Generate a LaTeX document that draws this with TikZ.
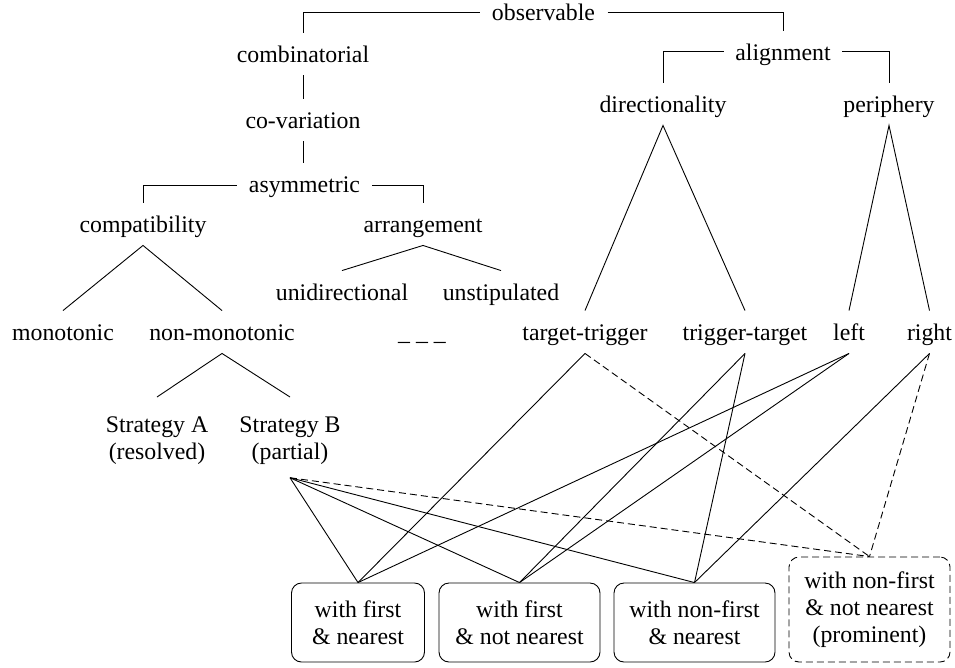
\documentclass[tikz,border=0pt]{standalone}
\usepackage{fontspec}
\setmainfont{Liberation Serif}
\begin{document}
\begin{tikzpicture}[x=1pt,y=-1pt,line width=0.9pt,
  txt/.style={font=\fontsize{23.8}{27}\selectfont},
  lbl/.style={txt,inner xsep=0pt,inner ysep=12pt,text height=17pt,text depth=1pt,anchor=base},
  strat/.style={txt,inner sep=0pt,align=center,anchor=north},
  box/.style={txt,draw,rounded corners=10pt,align=center,inner sep=0pt,minimum height=79pt,minimum width=161pt},
  dsh/.style={dash pattern=on 7pt off 4pt}]
\useasboundingbox (0,0) rectangle (955,667);

% labels
\node[lbl] (obs)   at (543.5,20) {observable};
\node[lbl] (comb)  at (303,62)   {combinatorial};
\node[lbl] (cov)   at (303,128)  {co-variation};
\node[lbl] (asym)  at (304.5,192) {asymmetric};
\node[lbl] (compat) at (143,232) {compatibility};
\node[lbl] (arr)   at (423,232)  {arrangement};
\node[lbl] (unid)  at (342,300)  {unidirectional};
\node[lbl] (unst)  at (501,300)  {unstipulated};
\node[lbl] (mono)  at (63,340)   {monotonic};
\node[lbl] (nmono) at (222,340)  {non-monotonic};
\node[lbl] (blank) at (422,340)  {\_ \_ \_};
\node[lbl] (align) at (783,60)   {alignment};
\node[lbl] (dir)   at (663,112)  {directionality};
\node[lbl] (peri)  at (889,112)  {periphery};
\node[lbl] (tt)    at (585,340)  {target-trigger};
\node[lbl] (tg)    at (745,340)  {trigger-target};
\node[lbl] (left)  at (849,340)  {left};
\node[lbl] (right) at (929.5,340) {right};
\node[strat] (sA)  at (157,416)  {Strategy A\\(resolved)};
\node[strat] (sB)  at (290,416)  {Strategy B\\(partial)};

% boxes
\node[box,minimum width=133pt] (b1) at (358,622.5) {with first\\\& nearest};
\node[box] (b2) at (519.5,622.5) {with first\\\& not nearest};
\node[box] (b3) at (694.5,622.5) {with non-first\\\& nearest};
\node[box,dsh,minimum height=105pt] (b4) at (869.5,609.5) {with non-first\\\& not nearest\\(prominent)};

% brackets
\draw ([xshift=-12pt,yshift=8pt]obs.base west) -| (comb.north);
\draw ([xshift=12pt,yshift=8pt]obs.base east) -| (align.north);
\draw (comb.south) -- (cov.north);
\draw (cov.south) -- (cov.south |- asym.north);
\draw ([xshift=-12pt,yshift=7pt]asym.base west) -| (compat.north);
\draw ([xshift=12pt,yshift=7pt]asym.base east) -| (arr.north);
\draw ([xshift=-11pt,yshift=9pt]align.base west) -| (dir.north);
\draw ([xshift=11pt,yshift=9pt]align.base east) -| (peri.north);

% trees
\draw (mono.north) -- (compat.south) -- (nmono.north);
\draw (unid.north) -- (arr.south) -- (unst.north);
\draw ([yshift=19pt]sA.north) -- (nmono.south) -- ([yshift=19pt]sB.north);
\draw (tt.north) -- (dir.south) -- (tg.north);
\draw (left.north) -- (peri.south) -- (right.north);

% links to boxes
\coordinate (fan) at ([yshift=-13pt]sB.south);
\draw (tt.south) -- (b1.north);
\draw[dsh] (tt.south) -- (b4.north);
\draw (tg.south) -- (b2.north);
\draw (tg.south) -- (b3.north);
\draw (left.south) -- (b1.north);
\draw (left.south) -- (b2.north);
\draw (right.south) -- (b3.north);
\draw[dsh] (right.south) -- (b4.north);
\draw (fan) -- (b1.north);
\draw (fan) -- (b2.north);
\draw (fan) -- (b3.north);
\draw[dsh] (fan) -- (b4.north);
\end{tikzpicture}
\end{document}
